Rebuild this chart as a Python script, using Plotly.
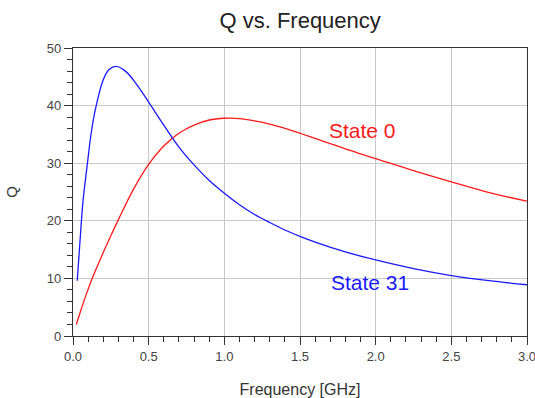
import plotly.graph_objects as go

freq_s31 = [0.028, 0.044, 0.066, 0.088, 0.1, 0.12, 0.15, 0.2, 0.24, 0.285, 0.35, 0.42, 0.5, 0.6, 0.7,
            0.8, 0.9, 1.0, 1.1, 1.2, 1.3, 1.4, 1.5, 1.6, 1.8, 2.0, 2.25, 2.5, 2.75, 3.0]
q_s31 = [9.6, 15.6, 23.4, 28.4, 31.0, 35.2, 39.6, 44.5, 46.3, 46.8, 45.9, 43.7, 40.6, 36.6, 32.8,
         29.7, 27.0, 24.8, 22.8, 21.1, 19.7, 18.4, 17.3, 16.3, 14.6, 13.2, 11.7, 10.5, 9.6, 8.9]

freq_s0 = [0.022, 0.05, 0.09, 0.13, 0.2, 0.25, 0.3, 0.4, 0.5, 0.6, 0.7, 0.8, 0.9, 1.0, 1.1,
           1.2, 1.3, 1.4, 1.5, 1.6, 1.7, 1.8, 1.9, 2.0, 2.25, 2.5, 2.75, 3.0]
q_s0 = [2.0, 4.3, 7.4, 10.2, 14.5, 17.4, 20.2, 25.5, 29.8, 33.0, 35.2, 36.6, 37.5, 37.8, 37.75,
        37.35, 36.8, 36.05, 35.2, 34.3, 33.4, 32.5, 31.6, 30.8, 28.7, 26.75, 24.9, 23.4]

labels = ["State 0", "State 31"]
label_pos = [(1.91, 35.7), (1.96, 9.3)]
colors = ["#ff1a1a", "#1a1aff"]

x_ticks = [0.0, 0.5, 1.0, 1.5, 2.0, 2.5, 3.0]
y_ticks = [0, 10, 20, 30, 40, 50]

FONT = "Liberation Sans, Arial"

fig = go.Figure()
fig.add_trace(go.Scatter(x=freq_s0, y=q_s0, mode="lines", line=dict(color=colors[0], width=1.3, shape="spline"),
                         name=labels[0], showlegend=False))
fig.add_trace(go.Scatter(x=freq_s31, y=q_s31, mode="lines", line=dict(color=colors[1], width=1.3, shape="spline"),
                         name=labels[1], showlegend=False))

for lab, (lx, ly), c in zip(labels, label_pos, colors):
    fig.add_annotation(x=lx, y=ly, text=lab, showarrow=False, xref="x", yref="y",
                       font=dict(family=FONT, size=21, color=c))

axis_common = dict(
    showline=True, linecolor="#333333", linewidth=1.3, mirror=True,
    showgrid=True, gridcolor="#c8c8c8", gridwidth=1.3,
    ticks="outside", ticklen=8, tickcolor="#333333", tickwidth=1,
    tickfont=dict(family=FONT, size=13, color="#444444"),
    zeroline=False, ticklabeloverflow="allow", automargin=False,
)

fig.update_layout(
    width=535, height=398,
    margin=dict(l=73, r=8, t=48, b=62),
    paper_bgcolor="white", plot_bgcolor="white",
    title=dict(text="Q vs. Frequency", x=0.561, xanchor="center", y=0.948, yanchor="middle",
               font=dict(family=FONT, size=22, color="#222222")),
    xaxis=dict(range=[0, 3], tickvals=x_ticks, tickformat=".1f",
               minor=dict(dtick=0.1, tick0=0, ticks="outside", ticklen=5, tickcolor="#333333", showgrid=False),
               title=dict(text="Frequency [GHz]", standoff=24,
                          font=dict(family=FONT, size=16, color="#333333")),
               **axis_common),
    yaxis=dict(range=[0, 50], tickvals=y_ticks,
               minor=dict(dtick=2, tick0=0, ticks="outside", ticklen=5, tickcolor="#333333", showgrid=False),
               title=dict(text="Q", standoff=25,
                          font=dict(family=FONT, size=15, color="#333333")),
               **axis_common),
)

fig.write_html("out.html")
